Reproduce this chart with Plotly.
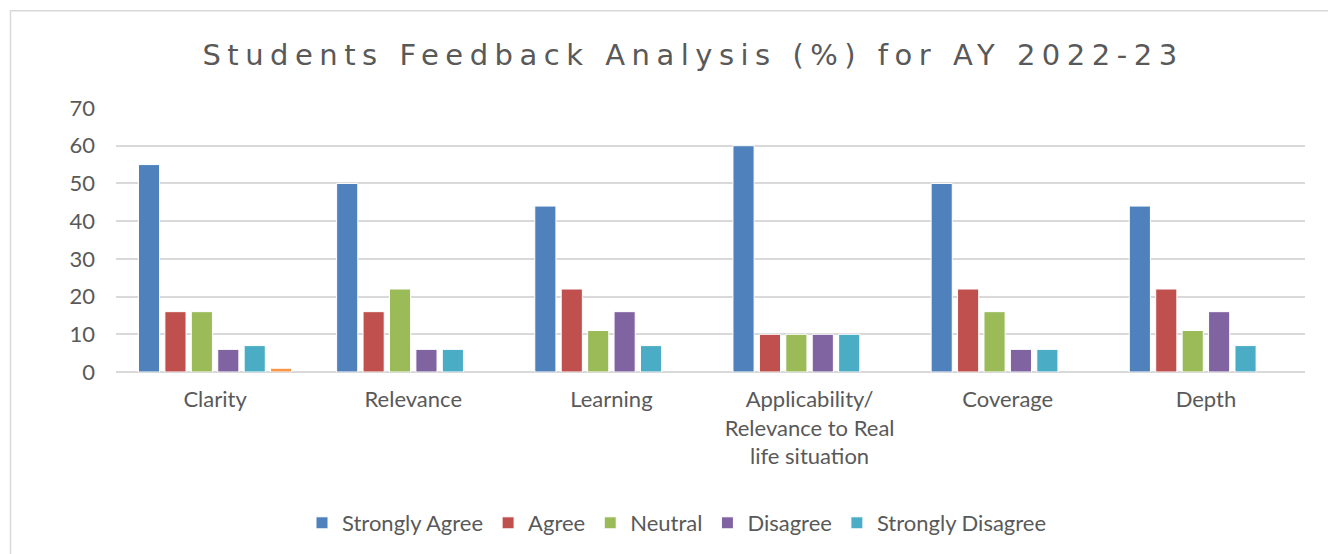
import plotly.graph_objects as go

categories = ["Clarity", "Relevance", "Learning",
              "Applicability/<br>Relevance to Real<br>life situation",
              "Coverage", "Depth"]
series_names = ["Strongly Agree", "Agree", "Neutral", "Disagree", "Strongly Disagree", "Other"]
strongly_agree = [55, 50, 44, 60, 50, 44]
agree = [16, 16, 22, 10, 22, 22]
neutral = [16, 22, 11, 10, 16, 11]
disagree = [6, 6, 16, 10, 6, 16]
strongly_disagree = [7, 6, 7, 10, 6, 7]
other = [1, None, None, None, None, None]
y_ticks = [0, 10, 20, 30, 40, 50, 60, 70]

colors = ["#4F81BD", "#C0504D", "#9BBB59", "#8064A2", "#4BACC6", "#F79646"]
values = [strongly_agree, agree, neutral, disagree, strongly_disagree, other]

fig = go.Figure()
for i, (name, vals) in enumerate(zip(series_names, values)):
    fig.add_trace(go.Bar(
        x=categories, y=vals, name=name,
        marker=dict(color=colors[i], line=dict(color="white", width=1)),
        showlegend=(i < 5),
    ))

# page has an 8px body margin; figure coordinates = page coordinates - 8
W, H = 1328, 546
L, T = 108, 100
R = W - (1305 - 8)
B = H - (373 - 8)
pw, ph = W - L - R, H - T - B

FONT = "Lato, 'Open Sans', sans-serif"
fig.update_layout(
    width=W, height=H,
    margin=dict(l=L, r=R, t=T, b=B),
    paper_bgcolor="white", plot_bgcolor="white",
    barmode="group", bargap=0.2, bargroupgap=0.2,
    title=dict(
        text='<span style="letter-spacing:6.5px">Students Feedback Analysis (%) for AY 2022-23</span>',
        x=(690 - 8 + 3) / W, xanchor="center", xref="container",
        y=1 - (55 - 8) / H, yanchor="middle", yref="container",
        font=dict(family="DejaVu Sans, sans-serif", size=29, color="#595959"),
    ),
    font=dict(family=FONT, size=22, color="#595959"),
    legend=dict(orientation="h", x=(683 - 8 - 6 - L) / pw, xanchor="center",
                y=-(523 - 373) / ph, yanchor="middle",
                font=dict(family=FONT, size=22, color="#595959"), traceorder="normal"),
    shapes=[dict(type="rect", xref="paper", yref="paper",
                 x0=(2.5 - L) / pw, x1=(W + 10 - L) / pw,
                 y0=-(H + 10 - T - ph) / ph, y1=(T - 2.5 + ph) / ph,
                 line=dict(color="#D9D9D9", width=1.5), layer="below")],
)
fig.update_yaxes(range=[0, 70], tickvals=y_ticks, gridcolor="#D9D9D9", gridwidth=1.5,
                 zeroline=True, zerolinecolor="#D9D9D9", zerolinewidth=1.5,
                 showline=False, ticks="", ticklabelstandoff=20,
                 tickfont=dict(family=FONT, size=22, color="#595959"))
fig.update_xaxes(showline=False, ticks="", ticklabelstandoff=12,
                 tickfont=dict(family=FONT, size=22, color="#595959"))

fig.write_html("out.html")
